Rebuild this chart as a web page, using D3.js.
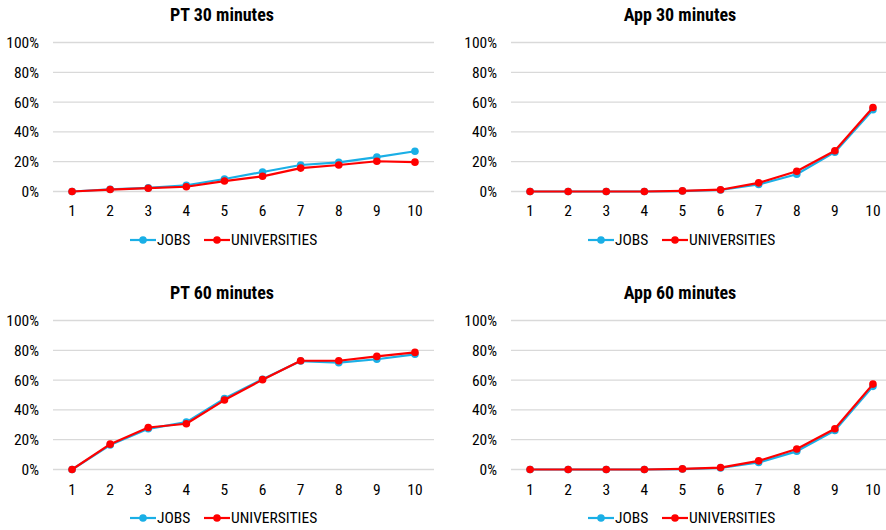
<!DOCTYPE html>
<html>
<head>
<meta charset="utf-8">
<script src="https://cdn.jsdelivr.net/npm/d3@7"></script>
<style>
  html, body { margin: 0; padding: 0; background: #fff; }
  svg { display: block; }
  text { font-family: "Liberation Sans Narrow", "Arial Narrow", "Roboto Condensed", "Liberation Sans", sans-serif; fill: #000; }
</style>
</head>
<body>
<svg id="chart" width="886" height="530"></svg>
<script>
const categories = [1, 2, 3, 4, 5, 6, 7, 8, 9, 10];
const yTickValues = [0, 0.2, 0.4, 0.6, 0.8, 1.0];
const seriesNames = ["JOBS", "UNIVERSITIES"];
const seriesColors = ["#1AAFE6", "#FF0000"];
const titles = ["PT 30 minutes", "App 30 minutes", "PT 60 minutes", "App 60 minutes"];

const pt30Jobs  = [0.000, 0.015, 0.024, 0.042, 0.084, 0.131, 0.178, 0.196, 0.231, 0.270];
const pt30Univ  = [0.000, 0.013, 0.022, 0.032, 0.070, 0.102, 0.157, 0.178, 0.203, 0.197];
const app30Jobs = [0.000, 0.000, 0.000, 0.000, 0.003, 0.010, 0.047, 0.116, 0.264, 0.549];
const app30Univ = [0.000, 0.000, 0.000, 0.000, 0.004, 0.012, 0.058, 0.136, 0.273, 0.564];
const pt60Jobs  = [0.000, 0.164, 0.273, 0.318, 0.476, 0.606, 0.728, 0.717, 0.740, 0.773];
const pt60Univ  = [0.000, 0.170, 0.282, 0.307, 0.466, 0.603, 0.730, 0.730, 0.759, 0.786];
const app60Jobs = [0.000, 0.000, 0.000, 0.000, 0.003, 0.010, 0.047, 0.122, 0.262, 0.558];
const app60Univ = [0.000, 0.000, 0.000, 0.000, 0.004, 0.013, 0.058, 0.138, 0.273, 0.573];

const panelData = [
  [pt30Jobs, pt30Univ],
  [app30Jobs, app30Univ],
  [pt60Jobs, pt60Univ],
  [app60Jobs, app60Univ]
];

// layout
const layouts = [
  { x0: 53,  x1: 434, yTop: 42.5,  yBot: 191.5, titleY: 15,  xLabY: 211, legY: 240, center: 222 },
  { x0: 511, x1: 892, yTop: 42.5,  yBot: 191.5, titleY: 15,  xLabY: 211, legY: 240, center: 680 },
  { x0: 53,  x1: 434, yTop: 320.5, yBot: 469.5, titleY: 293, xLabY: 490, legY: 518, center: 222 },
  { x0: 511, x1: 892, yTop: 320.5, yBot: 469.5, titleY: 293, xLabY: 490, legY: 518, center: 680 }
];

const svg = d3.select("#chart");

layouts.forEach((L, i) => {
  const g = svg.append("g");
  const x = d3.scaleBand().domain(categories).range([L.x0, L.x1]).padding(0);
  const cx = d => x(d) + x.bandwidth() / 2;
  const y = d3.scaleLinear().domain([0, 1]).range([L.yBot, L.yTop]);

  // gridlines
  g.append("g").selectAll("line").data(yTickValues).join("line")
    .attr("x1", L.x0).attr("x2", L.x1)
    .attr("y1", d => y(d)).attr("y2", d => y(d))
    .attr("stroke", "#D9D9D9").attr("stroke-width", 1.3);

  // y axis labels
  const yAxis = d3.axisLeft(y).tickValues(yTickValues).tickSize(0).tickPadding(14)
    .tickFormat(d => d3.format(".0%")(d));
  const ya = g.append("g").attr("transform", `translate(${L.x0},0)`).call(yAxis);
  ya.select(".domain").remove();
  ya.selectAll("text").attr("font-size", 15.5).attr("fill", "#000");

  // x axis labels
  const xAxis = d3.axisBottom(x).tickSize(0).tickPadding(0);
  const xa = g.append("g").attr("transform", `translate(0,${L.xLabY - 6})`).call(xAxis);
  xa.select(".domain").remove();
  xa.selectAll("text").attr("font-size", 15.5).attr("fill", "#000").attr("dy", "0.71em");
  ya.attr("font-family", null); xa.attr("font-family", null);

  // title
  g.append("text").attr("x", L.center).attr("y", L.titleY).attr("dy", "0.35em")
    .attr("text-anchor", "middle").attr("font-size", 18).attr("font-weight", "bold")
    .text(titles[i]);

  // series
  const line = d3.line().x((d, j) => cx(categories[j])).y(d => y(d));
  panelData[i].forEach((vals, s) => {
    g.append("path").datum(vals).attr("d", line)
      .attr("fill", "none").attr("stroke", seriesColors[s]).attr("stroke-width", 2.2)
      .attr("stroke-linejoin", "round");
    g.append("g").selectAll("circle").data(vals).join("circle")
      .attr("cx", (d, j) => cx(categories[j])).attr("cy", d => y(d))
      .attr("r", 3.8).attr("fill", seriesColors[s]);
  });

  // legend
  const legStart = L.center - 92;
  const items = [
    { lx: legStart, tx: legStart + 27 },
    { lx: legStart + 74, tx: legStart + 101 }
  ];
  seriesNames.forEach((name, s) => {
    const it = items[s];
    g.append("line").attr("x1", it.lx).attr("x2", it.lx + 26)
      .attr("y1", L.legY).attr("y2", L.legY)
      .attr("stroke", seriesColors[s]).attr("stroke-width", 2.2);
    g.append("circle").attr("cx", it.lx + 13).attr("cy", L.legY).attr("r", 3.8)
      .attr("fill", seriesColors[s]);
    g.append("text").attr("x", it.tx).attr("y", L.legY).attr("dy", "0.35em")
      .attr("font-size", 15.5).text(name);
  });
});
</script>
</body>
</html>
